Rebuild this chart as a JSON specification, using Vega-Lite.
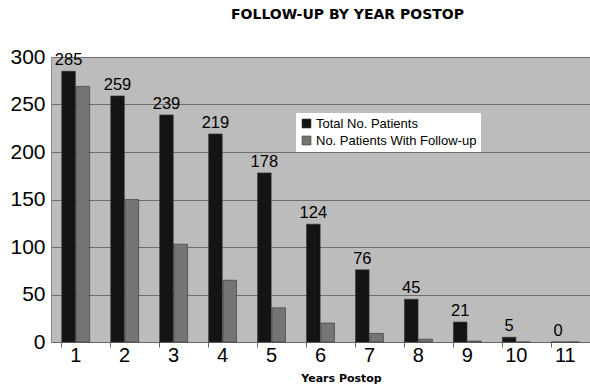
{
  "$schema": "https://vega.github.io/schema/vega-lite/v6.json",
  "autosize": {"type": "none"},
  "padding": {"left": 51, "top": 57, "right": 0, "bottom": 44},
  "width": 539,
  "height": 285,
  "background": "white",
  "title": {
    "text": "FOLLOW-UP BY YEAR POSTOP",
    "font": "DejaVu Sans",
    "fontWeight": "bold",
    "fontSize": 14,
    "anchor": "middle",
    "dx": 27,
    "offset": 24,
    "color": "black"
  },
  "config": {
    "view": {"fill": "#bcbcbc", "stroke": null},
    "font": "Liberation Sans"
  },
  "data": {
    "values": [
      {"year": "1", "series": "Total No. Patients", "value": 285},
      {"year": "1", "series": "No. Patients With Follow-up", "value": 269},
      {"year": "2", "series": "Total No. Patients", "value": 259},
      {"year": "2", "series": "No. Patients With Follow-up", "value": 150},
      {"year": "3", "series": "Total No. Patients", "value": 239},
      {"year": "3", "series": "No. Patients With Follow-up", "value": 103},
      {"year": "4", "series": "Total No. Patients", "value": 219},
      {"year": "4", "series": "No. Patients With Follow-up", "value": 65},
      {"year": "5", "series": "Total No. Patients", "value": 178},
      {"year": "5", "series": "No. Patients With Follow-up", "value": 36},
      {"year": "6", "series": "Total No. Patients", "value": 124},
      {"year": "6", "series": "No. Patients With Follow-up", "value": 20},
      {"year": "7", "series": "Total No. Patients", "value": 76},
      {"year": "7", "series": "No. Patients With Follow-up", "value": 9},
      {"year": "8", "series": "Total No. Patients", "value": 45},
      {"year": "8", "series": "No. Patients With Follow-up", "value": 3},
      {"year": "9", "series": "Total No. Patients", "value": 21},
      {"year": "9", "series": "No. Patients With Follow-up", "value": 1},
      {"year": "10", "series": "Total No. Patients", "value": 5},
      {"year": "10", "series": "No. Patients With Follow-up", "value": 0},
      {"year": "11", "series": "Total No. Patients", "value": 0},
      {"year": "11", "series": "No. Patients With Follow-up", "value": 0}
    ]
  },
  "encoding": {
    "x": {
      "field": "year",
      "type": "ordinal",
      "sort": ["1","2","3","4","5","6","7","8","9","10","11"],
      "scale": {"paddingInner": 0.43, "paddingOuter": 0.22}
    },
    "xOffset": {
      "field": "series",
      "type": "nominal",
      "sort": ["Total No. Patients", "No. Patients With Follow-up"],
      "scale": {"paddingInner": 0.05}
    },
    "y": {
      "field": "value",
      "type": "quantitative",
      "scale": {"domain": [0, 300], "nice": false}
    }
  },
  "layer": [
    {
      "mark": {"type": "bar", "stroke": "#333", "strokeWidth": 0.6},
      "encoding": {
        "x": {
          "field": "year",
          "type": "ordinal",
          "sort": ["1","2","3","4","5","6","7","8","9","10","11"],
          "axis": {
            "title": "Years Postop",
            "titleFont": "DejaVu Sans",
            "titleFontWeight": "bold",
            "titleFontSize": 11,
            "titleColor": "black",
            "titleX": 290,
            "titleY": 36,
            "titleBaseline": "middle",
            "labelAngle": 0,
            "labelFontSize": 20,
            "labelColor": "black",
            "labelPadding": 3,
            "ticks": false,
            "domainColor": "#666",
            "grid": false
          }
        },
        "y": {
          "field": "value",
          "type": "quantitative",
          "axis": {
            "title": null,
            "values": [0, 50, 100, 150, 200, 250, 300],
            "labelFontSize": 21,
            "labelColor": "black",
            "labelPadding": 6,
            "ticks": false,
            "domainColor": "#888",
            "gridColor": "#6f6f6f",
            "gridWidth": 1
          }
        },
        "color": {
          "field": "series",
          "type": "nominal",
          "sort": ["Total No. Patients", "No. Patients With Follow-up"],
          "scale": {"range": ["#141414", "#757575"]},
          "legend": {
            "title": null,
            "orient": "none",
            "legendX": 245,
            "legendY": 56,
            "fillColor": "white",
            "padding": 4,
            "symbolType": "square",
            "symbolSize": 80,
            "symbolStrokeColor": "#333",
            "symbolStrokeWidth": 0.6,
            "labelFontSize": 13,
            "labelLimit": 400,
            "labelColor": "black",
            "labelFont": "Liberation Sans",
            "rowPadding": 3,
            "symbolOffset": 0,
            "labelOffset": 3
          }
        }
      }
    },
    {
      "transform": [{"filter": "datum.series === 'Total No. Patients'"}],
      "mark": {"type": "text", "baseline": "bottom", "dy": -3, "fontSize": 16.5, "color": "black"},
      "encoding": {
        "x": {
          "field": "year",
          "type": "ordinal",
          "sort": ["1","2","3","4","5","6","7","8","9","10","11"],
          "axis": {
            "bandPosition": 0,
            "labels": false,
            "ticks": true,
            "tickSize": 5,
            "tickColor": "#666",
            "domain": false,
            "grid": false,
            "title": null,
            "orient": "bottom"
          }
        },
        "text": {"field": "value", "type": "quantitative"}
      }
    }
  ],
  "resolve": {"axis": {"x": "independent"}}
}
